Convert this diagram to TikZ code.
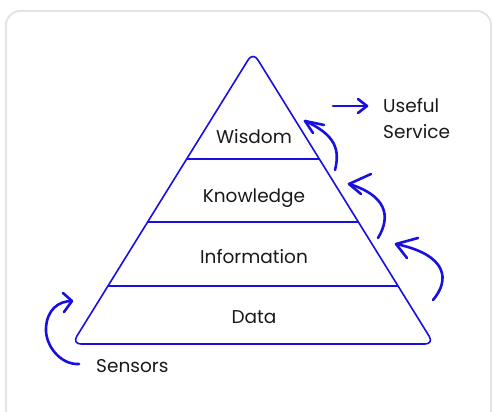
\documentclass[tikz,border=0pt]{standalone}
\usepackage{fontspec}
\setmainfont{Poppins}
\usetikzlibrary{calc}
\definecolor{ink}{RGB}{25,15,225}
\definecolor{cardline}{RGB}{228,228,228}
\begin{document}
\begin{tikzpicture}[x=1pt,y=-1pt,
  label/.style={font=\fontsize{18.5}{26}\selectfont, text=black!90, inner sep=0pt, anchor=base},
  edge/.style={draw=ink, line width=1.6pt},
  hand/.style={draw=ink, line width=2.6pt, line cap=round, line join=round}]
\useasboundingbox (0,0) rectangle (493,412);
% card
\draw[cardline, line width=2pt, rounded corners=14pt] (6,11) -- (6,430) -- (491,430) -- (491,11) -- cycle;
% pyramid corners
\coordinate (apex) at (253,52);
\coordinate (bl) at (72,344);
\coordinate (br) at (434,344);
\draw[edge, rounded corners=9pt] (apex) -- (br) -- (bl) -- cycle;
% layer dividers
\foreach \t/\n in {0.367/a,0.582/b,0.801/c}{
  \coordinate (l\n) at ($(apex)!\t!(bl)$);
  \coordinate (r\n) at ($(apex)!\t!(br)$);
}
\draw[edge] (la) -- (ra);
\draw[edge] (lb) -- (rb);
\draw[edge] (lc) -- (rc);
% layer names
\node[label] (wis) at (254,143.5) {Wisdom};
\node[label] (kno) at (254,202) {Knowledge};
\node[label] (inf) at (254,263) {Information};
\node[label] (dat) at (254,323) {Data};
\node[label, anchor=base west] (sen) at (96,372) {Sensors};
\node[label, anchor=base west] (use) at (383,113) {Useful};
\node[label, anchor=base west] (ser) at (383,139) {Service};
% hand-drawn arrows
\draw[hand] (333,106) -- (366,106);
\draw[hand] (358,99) -- (367,106) -- (358,113);
\draw[hand] (335,170) .. controls (340,150) and (336,135) .. (305,121);
\draw[hand] (324,125) -- (305,121) -- (313,133);
\draw[hand] (378,238) .. controls (392,215) and (385,195) .. (349,184);
\draw[hand] (371,174) -- (349,184) -- (361,194);
\draw[hand] (433,300) .. controls (450,280) and (448,255) .. (396,244);
\draw[hand] (418,238) -- (396,244) -- (407,258);
\draw[hand] (79,364) .. controls (60,365) and (45,345) .. (46,328) .. controls (47,310) and (58,301) .. (72,301);
\draw[hand] (63,293) -- (72,301) -- (64,312);
\end{tikzpicture}
\end{document}
